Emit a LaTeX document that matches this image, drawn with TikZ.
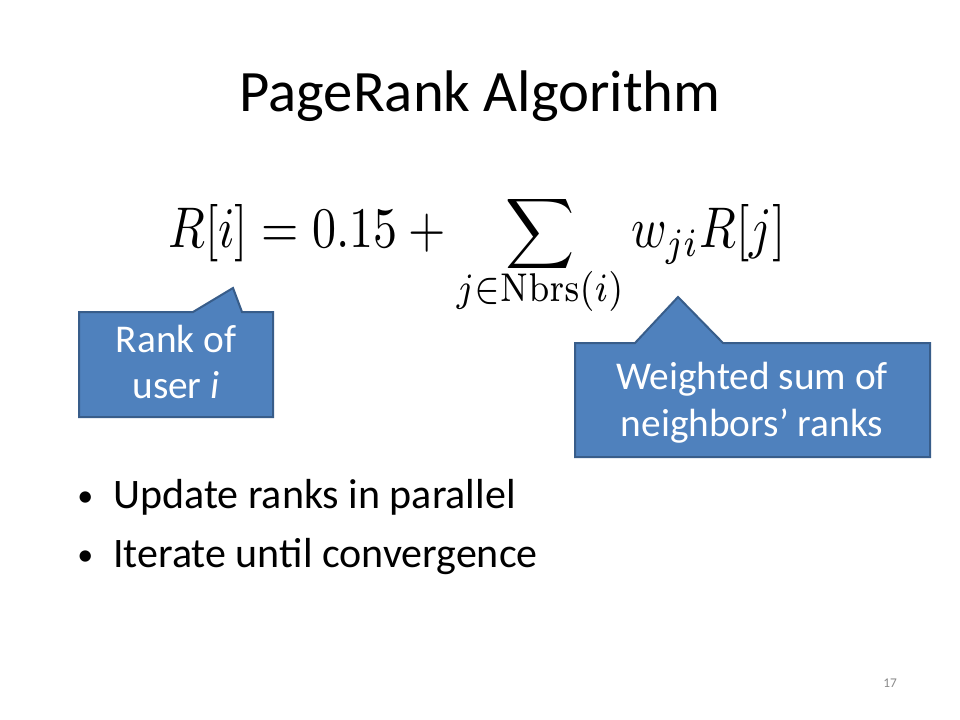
\documentclass[tikz,border=0pt]{standalone}
\usepackage[no-math]{fontspec}
\setmainfont{Carlito}
\usepackage{graphicx}

\definecolor{callfill}{HTML}{4F81BD}
\definecolor{callline}{HTML}{385D8A}
\definecolor{pagenum}{HTML}{898989}

\newcommand{\bigsum}{\mathop{\vcenter{\hbox{\scalebox{1}[0.86]{$\displaystyle\sum$}}}}\limits}

\begin{document}
\begin{tikzpicture}[x=0.75pt, y=-0.75pt,
    callout/.style={fill=callfill, draw=callline, line width=1.5pt, line join=miter},
    calltext/.style={text=white, align=center, font=\fontsize{29.5}{35}\selectfont},
    item/.style={anchor=base west, inner sep=0pt, font=\fontsize{31.5}{37}\selectfont}]
        \useasboundingbox[fill=white] (0,0) rectangle (960,720);

        \node[anchor=base, font=\fontsize{44}{53}\selectfont] (title) at (480,112) {PageRank Algorithm};

        \node[anchor=base west, inner sep=0pt] (formula) at (168,248)
            {\scalebox{3.6}[4.3]{$\displaystyle R[i] = 0.15 + \bigsum_{\raisebox{1.9pt}[\height][\depth]{$\scriptstyle j\in\mathrm{Nbrs}(i)$}} w_{ji}R[j]$}};

        \draw[callout] (79,312) -- (193,312) -- (233,288) -- (242,312) -- (273,312) -- (273,417) -- (79,417) -- cycle;
        \draw[callout] (575,343) -- (635,343) -- (678,297) -- (723,343) -- (930,343) -- (930,457) -- (575,457) -- cycle;

        \node[calltext] (rank) at (176,362) {Rank of\\user \textit{i}};
        \node[calltext] (wsum) at (752,403) {Weighted sum of\\neighbors’ ranks};

        \node[item, font=\fontsize{24}{28}\selectfont] (dot1) at (77,506) {•};
        \node[item] (upd) at (113,508) {Update ranks in parallel};
        \node[item, font=\fontsize{24}{28}\selectfont] (dot2) at (77,565) {•};
        \node[item] (iter) at (113,567) {Iterate until convergence};

        \node[anchor=base, text=pagenum, font=\fontsize{10}{12}\selectfont] (num) at (890,687) {17};
    \end{tikzpicture}
\end{document}
